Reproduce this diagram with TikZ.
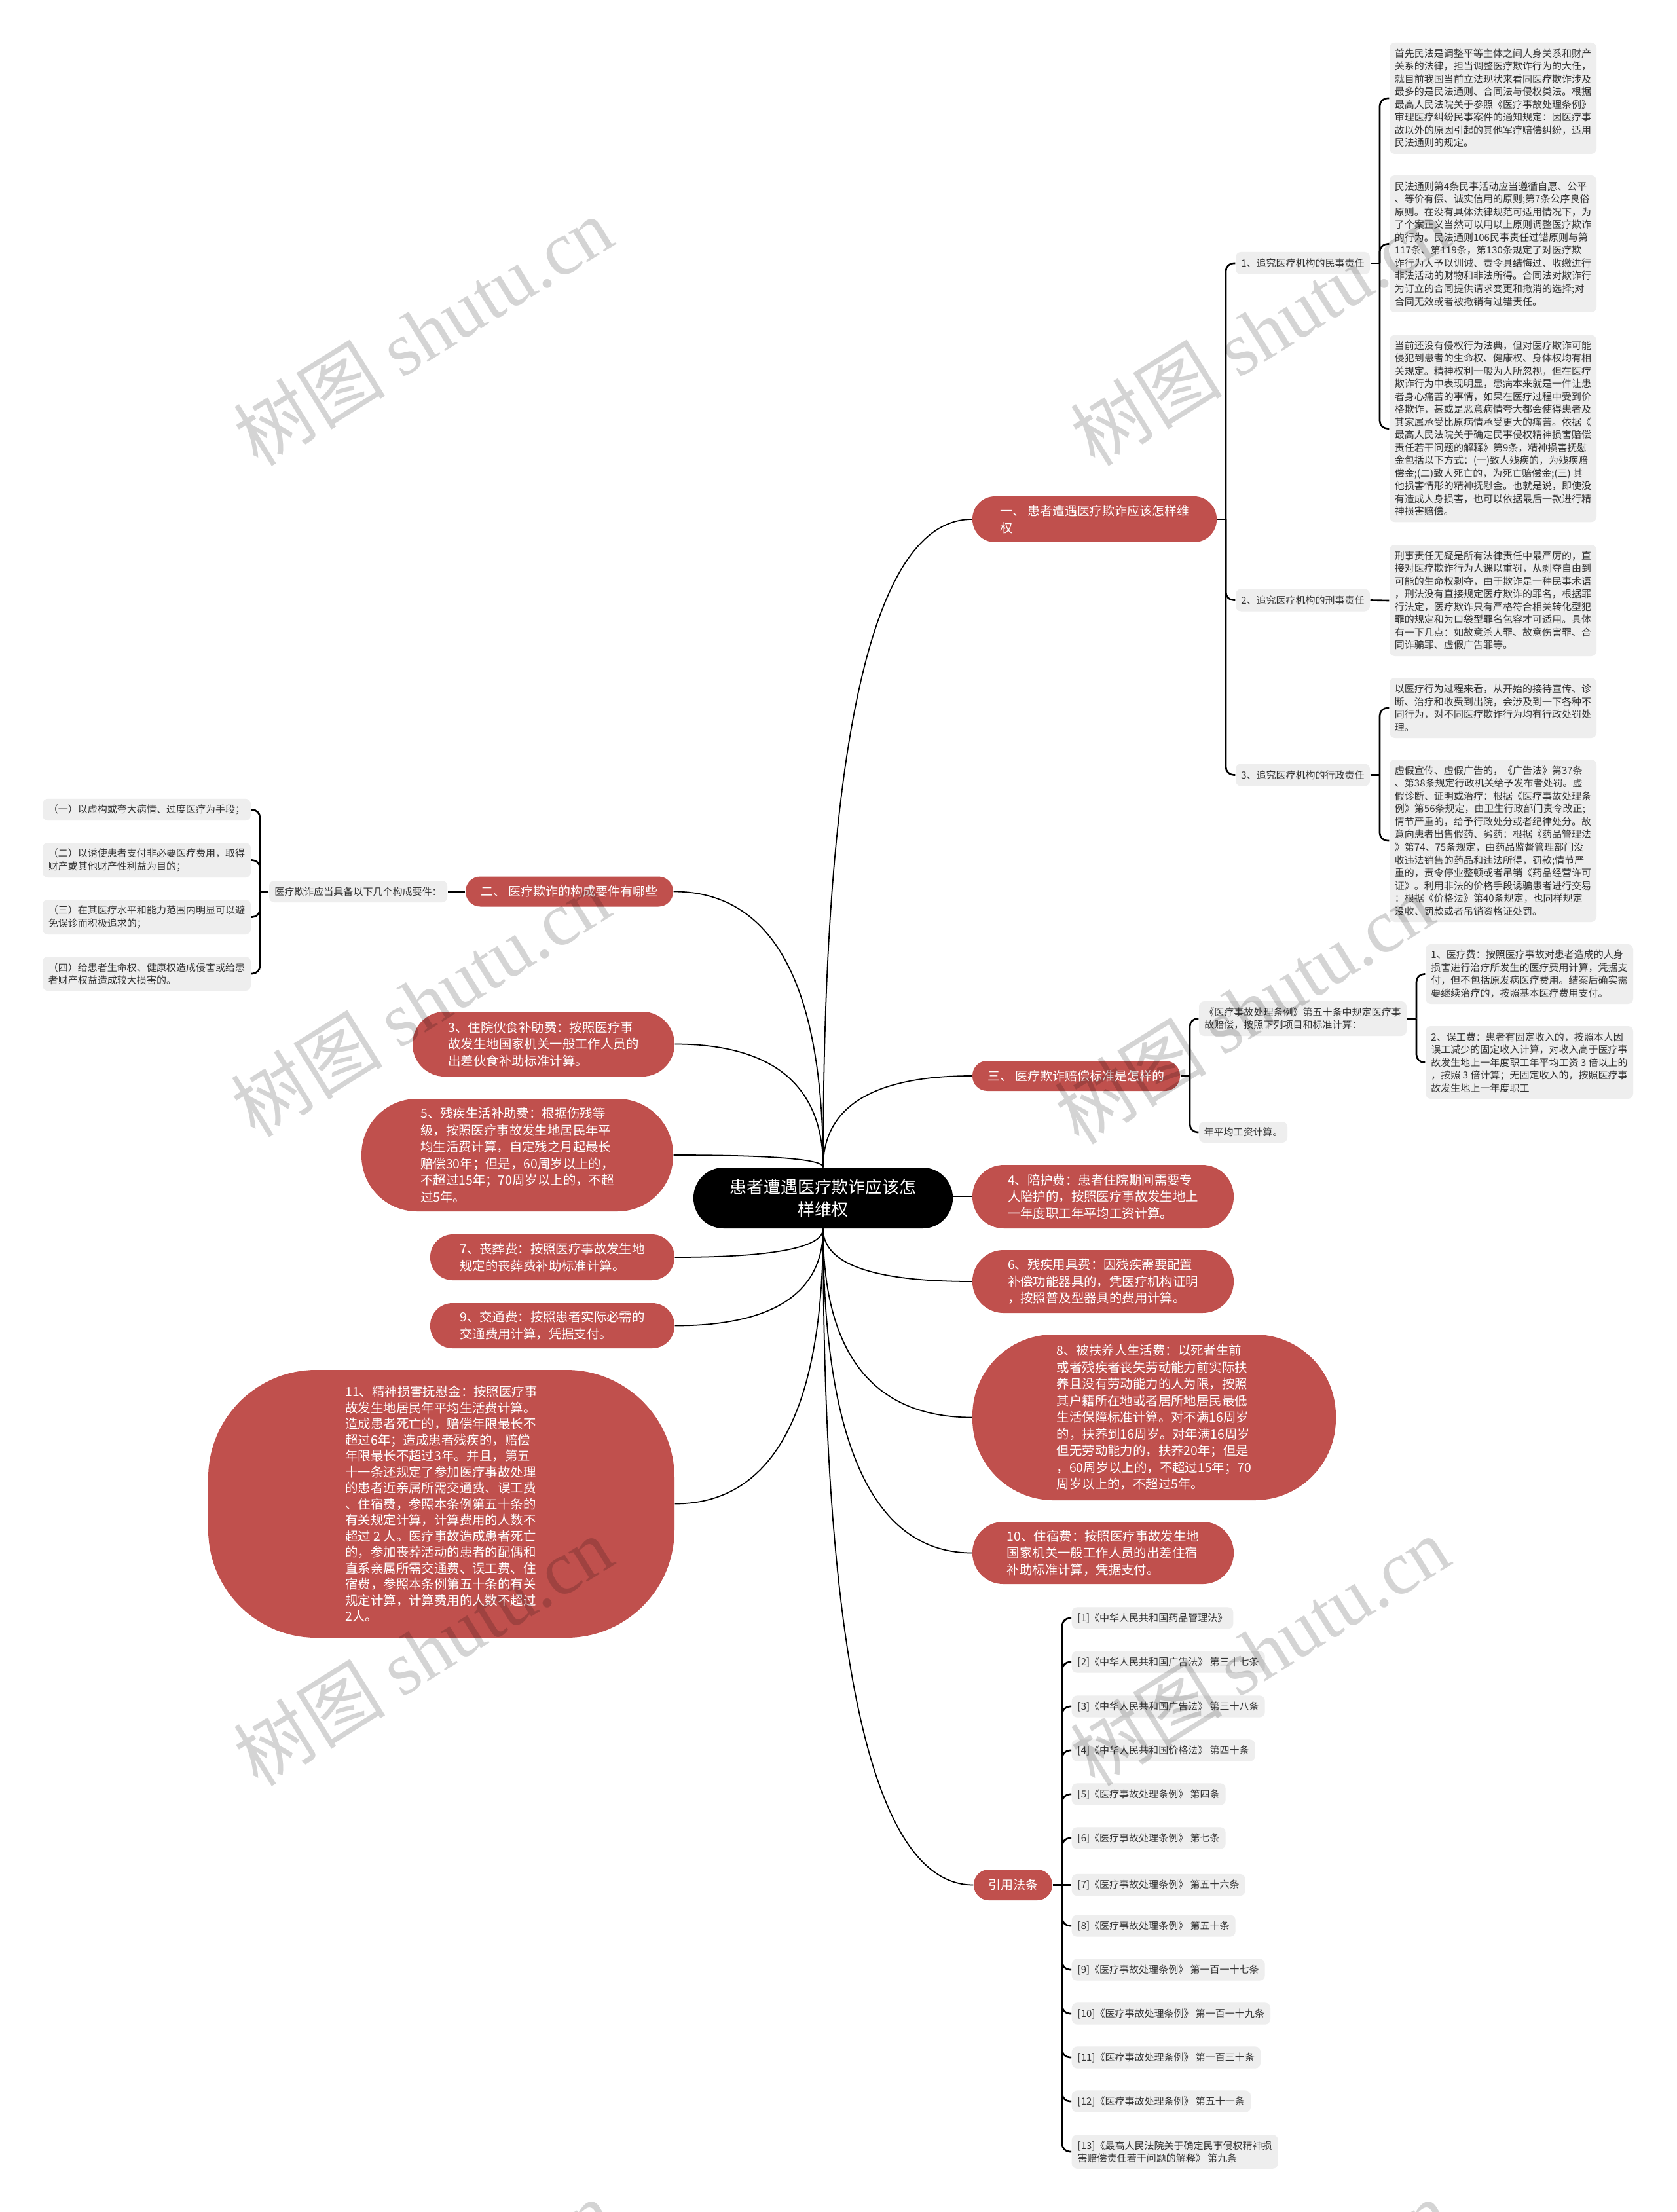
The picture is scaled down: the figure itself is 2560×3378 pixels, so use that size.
\documentclass[tikz,border=0pt]{standalone}
\usepackage{fontspec}
\setmainfont{Noto Sans CJK SC}
\newfontfamily\wmlatin{Liberation Serif}
\definecolor{myred}{HTML}{C0504D}
\definecolor{gfill}{HTML}{EEEEEE}
\definecolor{gtext}{HTML}{333333}
\tikzset{
  gbox/.style={fill=gfill, text=gtext, rounded corners=0.8mm, inner xsep=0.6mm, inner ysep=0.9mm, align=left, font=\fontsize{4.27pt}{5.55pt}\selectfont},
  rnode/.style={fill=myred, text=white, inner sep=0.4mm, align=left, font=\fontsize{5.52pt}{7.26pt}\selectfont},
  bnode/.style={fill=myred, text=white, inner sep=0.4mm, align=left, font=\fontsize{5.4pt}{7.3pt}\selectfont},
  mc/.style={line width=0.5pt, black},
  br/.style={line width=0.75pt, black, rounded corners=1.2mm},
  wm/.style={text=black, text opacity=0.17, font=\fontsize{33pt}{33pt}\selectfont, rotate=32, inner sep=0pt},
}
\begin{document}
\begin{tikzpicture}[x=0.1mm, y=-0.1mm]
\fill[white] (0,0) rectangle (2560,3378);
\useasboundingbox (0,0) rectangle (2560,3378);

% root
\node[fill=black, text=white, align=center, font=\fontsize{7.37pt}{9.6pt}\selectfont, minimum width=39.6mm, minimum height=9.3mm, rounded corners=4.6mm, inner sep=0.5mm] (root) at (1257,1829.5) {患者遭遇医疗欺诈应该怎\\样维权};

% branches
\node[bnode, minimum width=37.3mm, minimum height=7mm, rounded corners=3.45mm] (b1) at (1671.5,793) {一、 患者遭遇医疗欺诈应该怎样维\\权};
\node[bnode, minimum width=31.7mm, minimum height=4.6mm, rounded corners=2.25mm] (b2) at (869.5,1361.5) {二、 医疗欺诈的构成要件有哪些};
\node[bnode, minimum width=31.7mm, minimum height=4.6mm, rounded corners=2.25mm] (b3) at (1643.5,1643) {三、 医疗欺诈赔偿标准是怎样的};
\node[bnode, minimum width=12mm, minimum height=4.7mm, rounded corners=2.3mm] (b4) at (1547,2878.5) {引用法条};

% red leaves, left
\node[rnode, minimum width=40mm, minimum height=9.9mm, rounded corners=4.9mm] (n3) at (830,1594.5) {3、住院伙食补助费：按照医疗事\\故发生地国家机关一般工作人员的\\出差伙食补助标准计算。};
\node[rnode, minimum width=47.6mm, minimum height=17.2mm, rounded corners=8.5mm] (n5) at (790,1764) {5、残疾生活补助费：根据伤残等\\级，按照医疗事故发生地居民年平\\均生活费计算，自定残之月起最长\\赔偿30年；但是，60周岁以上的，\\不超过15年；70周岁以上的，不超\\过5年。};
\node[rnode, minimum width=37.3mm, minimum height=7mm, rounded corners=3.45mm] (n7) at (843.5,1920) {7、丧葬费：按照医疗事故发生地\\规定的丧葬费补助标准计算。};
\node[rnode, minimum width=37.3mm, minimum height=6.9mm, rounded corners=3.4mm] (n9) at (843.5,2024.5) {9、交通费：按照患者实际必需的\\交通费用计算，凭据支付。};
\node[rnode, font=\fontsize{5.52pt}{6.97pt}\selectfont, minimum width=71.2mm, minimum height=40.9mm, rounded corners=16.5mm] (n11) at (674,2296.5) {11、精神损害抚慰金：按照医疗事\\故发生地居民年平均生活费计算。\\造成患者死亡的，赔偿年限最长不\\超过6年；造成患者残疾的，赔偿\\年限最长不超过3年。并且，第五\\十一条还规定了参加医疗事故处理\\的患者近亲属所需交通费、误工费\\、住宿费，参照本条例第五十条的\\有关规定计算，计算费用的人数不\\超过 2 人。医疗事故造成患者死亡\\的，参加丧葬活动的患者的配偶和\\直系亲属所需交通费、误工费、住\\宿费，参照本条例第五十条的有关\\规定计算，计算费用的人数不超过\\2人。};

% red leaves, right
\node[rnode, minimum width=39.9mm, minimum height=9.7mm, rounded corners=4.8mm] (n4) at (1684.5,1827.5) {4、陪护费：患者住院期间需要专\\人陪护的，按照医疗事故发生地上\\一年度职工年平均工资计算。};
\node[rnode, minimum width=39.9mm, minimum height=9.6mm, rounded corners=4.75mm] (n6) at (1684.5,1957) {6、残疾用具费：因残疾需要配置\\补偿功能器具的，凭医疗机构证明\\，按照普及型器具的费用计算。};
\node[rnode, minimum width=55.5mm, minimum height=25.3mm, rounded corners=12.4mm] (n8) at (1762.5,2164.5) {8、被扶养人生活费：以死者生前\\或者残疾者丧失劳动能力前实际扶\\养且没有劳动能力的人为限，按照\\其户籍所在地或者居所地居民最低\\生活保障标准计算。对不满16周岁\\的，扶养到16周岁。对年满16周岁\\但无劳动能力的，扶养20年；但是\\，60周岁以上的，不超过15年；70\\周岁以上的，不超过5年。};
\node[rnode, minimum width=39.9mm, minimum height=9.5mm, rounded corners=4.7mm] (n10) at (1684.5,2371.5) {10、住宿费：按照医疗事故发生地\\国家机关一般工作人员的出差住宿\\补助标准计算，凭据支付。};

% branch one subtree
\node[gbox, minimum width=20.5mm, minimum height=3.4mm] (c1) at (1989.5,402) {1、追究医疗机构的民事责任};
\node[gbox, minimum width=20.5mm, minimum height=3.4mm] (c2) at (1989.5,916.5) {2、追究医疗机构的刑事责任};
\node[gbox, minimum width=20.5mm, minimum height=3.4mm] (c3) at (1989.5,1183.5) {3、追究医疗机构的行政责任};

\node[gbox, minimum width=31.6mm, minimum height=17mm] (k1) at (2280,150) {首先民法是调整平等主体之间人身关系和财产\\关系的法律，担当调整医疗欺诈行为的大任，\\就目前我国当前立法现状来看同医疗欺诈涉及\\最多的是民法通则、合同法与侵权类法。根据\\最高人民法院关于参照《医疗事故处理条例》\\审理医疗纠纷民事案件的通知规定：因医疗事\\故以外的原因引起的其他军疗赔偿纠纷，适用\\民法通则的规定。};
\node[gbox, minimum width=31.6mm, minimum height=20.9mm] (k2) at (2280,372.5) {民法通则第4条民事活动应当遵循自愿、公平\\、等价有偿、诚实信用的原则;第7条公序良俗\\原则。在没有具体法律规范可适用情况下，为\\了个案正义当然可以用以上原则调整医疗欺诈\\的行为。民法通则106民事责任过错原则与第\\117条、第119条，第130条规定了对医疗欺\\诈行为人予以训诫、责令具结悔过、收缴进行\\非法活动的财物和非法所得。合同法对欺诈行\\为订立的合同提供请求变更和撤消的选择;对\\合同无效或者被撤销有过错责任。};
\node[gbox, minimum width=31.6mm, minimum height=28.5mm] (k3) at (2280,654.5) {当前还没有侵权行为法典，但对医疗欺诈可能\\侵犯到患者的生命权、健康权、身体权均有相\\关规定。精神权利一般为人所忽视，但在医疗\\欺诈行为中表现明显，患病本来就是一件让患\\者身心痛苦的事情，如果在医疗过程中受到价\\格欺诈，甚或是恶意病情夸大都会使得患者及\\其家属承受比原病情承受更大的痛苦。依据《\\最高人民法院关于确定民事侵权精神损害赔偿\\责任若干问题的解释》第9条，精神损害抚慰\\金包括以下方式：(一)致人残疾的，为残疾赔\\偿金;(二)致人死亡的，为死亡赔偿金;(三) 其\\他损害情形的精神抚慰金。也就是说，即使没\\有造成人身损害，也可以依据最后一款进行精\\神损害赔偿。};
\node[gbox, minimum width=31.6mm, minimum height=17mm] (k4) at (2280,917) {刑事责任无疑是所有法律责任中最严厉的，直\\接对医疗欺诈行为人课以重罚，从剥夺自由到\\可能的生命权剥夺，由于欺诈是一种民事术语\\，刑法没有直接规定医疗欺诈的罪名，根据罪\\行法定，医疗欺诈只有严格符合相关转化型犯\\罪的规定和为口袋型罪名包容才可适用。具体\\有一下几点：如故意杀人罪、故意伤害罪、合\\同诈骗罪、虚假广告罪等。};
\node[gbox, minimum width=31.6mm, minimum height=9.2mm] (k5) at (2280,1081) {以医疗行为过程来看，从开始的接待宣传、诊\\断、治疗和收费到出院，会涉及到一下各种不\\同行为，对不同医疗欺诈行为均有行政处罚处\\理。};
\node[gbox, minimum width=31.6mm, minimum height=24.8mm] (k6) at (2280,1284) {虚假宣传、虚假广告的，《广告法》第37条\\、第38条规定行政机关给予发布者处罚。虚\\假诊断、证明或治疗：根据《医疗事故处理条\\例》第56条规定，由卫生行政部门责令改正;\\情节严重的，给予行政处分或者纪律处分。故\\意向患者出售假药、劣药：根据《药品管理法\\》第74、75条规定，由药品监督管理部门没\\收违法销售的药品和违法所得，罚款;情节严\\重的，责令停业整顿或者吊销《药品经营许可\\证》。利用非法的价格手段诱骗患者进行交易\\：根据《价格法》第40条规定，也同样规定\\没收、罚款或者吊销资格证处罚。};

% branch two subtree
\node[gbox, minimum width=27.2mm, minimum height=3.3mm] (req) at (547,1361.5) {医疗欺诈应当具备以下几个构成要件：};
\node[gbox, minimum width=31.8mm, minimum height=3.3mm] (r1) at (224,1236.5) {（一）以虚构或夸大病情、过度医疗为手段；};
\node[gbox, minimum width=31.8mm, minimum height=5.3mm] (r2) at (224,1313.5) {（二）以诱使患者支付非必要医疗费用，取得\\财产或其他财产性利益为目的；};
\node[gbox, minimum width=31.8mm, minimum height=5.3mm] (r3) at (224,1400.5) {（三）在其医疗水平和能力范围内明显可以避\\免误诊而积极追求的；};
\node[gbox, minimum width=31.8mm, minimum height=5.2mm] (r4) at (224,1487) {（四）给患者生命权、健康权造成侵害或给患\\者财产权益造成较大损害的。};

% branch three subtree
\node[gbox, minimum width=31.7mm, minimum height=5.3mm] (tl) at (1989.5,1555.5) {《医疗事故处理条例》第五十条中规定医疗事\\故赔偿，按照下列项目和标准计算：};
\node[gbox, minimum width=13.5mm, minimum height=3.2mm] (ny) at (1898.5,1729) {年平均工资计算。};
\node[gbox, minimum width=31.7mm, minimum height=9.1mm] (m1) at (2335.5,1487.5) {1、医疗费：按照医疗事故对患者造成的人身\\损害进行治疗所发生的医疗费用计算，凭据支\\付，但不包括原发病医疗费用。结案后确实需\\要继续治疗的，按照基本医疗费用支付。};
\node[gbox, minimum width=31.7mm, minimum height=11.1mm] (m2) at (2335.5,1622.5) {2、误工费：患者有固定收入的，按照本人因\\误工减少的固定收入计算，对收入高于医疗事\\故发生地上一年度职工年平均工资 3 倍以上的\\，按照 3 倍计算；无固定收入的，按照医疗事\\故发生地上一年度职工};

% references
\node[gbox, anchor=west, minimum height=3.3mm, inner xsep=0.9mm] (f1) at (1636,2471) {[1]《中华人民共和国药品管理法》};
\node[gbox, anchor=west, minimum height=3.3mm, inner xsep=0.9mm] (f2) at (1636,2538) {[2]《中华人民共和国广告法》\ 第三十七条};
\node[gbox, anchor=west, minimum height=3.3mm, inner xsep=0.9mm] (f3) at (1636,2606) {[3]《中华人民共和国广告法》\ 第三十八条};
\node[gbox, anchor=west, minimum height=3.3mm, inner xsep=0.9mm] (f4) at (1636,2673) {[4]《中华人民共和国价格法》\ 第四十条};
\node[gbox, anchor=west, minimum height=3.3mm, inner xsep=0.9mm] (f5) at (1636,2740) {[5]《医疗事故处理条例》\ 第四条};
\node[gbox, anchor=west, minimum height=3.3mm, inner xsep=0.9mm] (f6) at (1636,2807) {[6]《医疗事故处理条例》\ 第七条};
\node[gbox, anchor=west, minimum height=3.3mm, inner xsep=0.9mm] (f7) at (1636,2878.5) {[7]《医疗事故处理条例》\ 第五十六条};
\node[gbox, anchor=west, minimum height=3.3mm, inner xsep=0.9mm] (f8) at (1636,2941) {[8]《医疗事故处理条例》\ 第五十条};
\node[gbox, anchor=west, minimum height=3.3mm, inner xsep=0.9mm] (f9) at (1636,3008) {[9]《医疗事故处理条例》\ 第一百一十七条};
\node[gbox, anchor=west, minimum height=3.3mm, inner xsep=0.9mm] (f10) at (1636,3075) {[10]《医疗事故处理条例》\ 第一百一十九条};
\node[gbox, anchor=west, minimum height=3.3mm, inner xsep=0.9mm] (f11) at (1636,3142) {[11]《医疗事故处理条例》\ 第一百三十条};
\node[gbox, anchor=west, minimum height=3.3mm, inner xsep=0.9mm] (f12) at (1636,3209) {[12]《医疗事故处理条例》\ 第五十一条};
\node[gbox, anchor=west, minimum height=5.1mm, inner xsep=0.9mm] (f13) at (1636,3286) {[13]《最高人民法院关于确定民事侵权精神损\\害赔偿责任若干问题的解释》\ 第九条};

% spine coordinates
\coordinate (s1) at (1872,793);
\coordinate (s1a) at (2107,402);
\coordinate (s1c) at (2107,1183.5);
\coordinate (s2) at (397,1361.5);
\coordinate (s3) at (1817,1643);
\coordinate (s3a) at (2163,1555.5);
\coordinate (s4) at (1622,2878.5);

% main curves
\draw[mc] (root.north) .. controls +(0,-594) and +(-164,0) .. (b1.west);
\draw[mc] (root.north) .. controls +(0,-84) and +(-164,0) .. (b3.west);
\draw[mc] (root.east |- n4.west) -- (n4.west);
\draw[mc] (root.south) .. controls +(0,49) and +(-164,0) .. (n6.west);
\draw[mc] (root.south) .. controls +(0,173) and +(-164,0) .. (n8.west);
\draw[mc] (root.south) .. controls +(0,297) and +(-164,0) .. (n10.west);
\draw[mc] (root.south) .. controls +(0,601) and +(-166,0) .. (b4.west);
\draw[mc] (root.north) .. controls +(0,-253) and +(165,0) .. (b2.east);
\draw[mc] (root.north) .. controls +(0,-113) and +(163,0) .. (n3.east);
\draw[mc] (root.north) .. controls +(0,-11) and +(165,0) .. (n5.east);
\draw[mc] (root.south) .. controls +(0,26) and +(163,0) .. (n7.east);
\draw[mc] (root.south) .. controls +(0,89) and +(163,0) .. (n9.east);
\draw[mc] (root.south) .. controls +(0,252) and +(163,0) .. (n11.east);

% brackets: branch one
\draw[br] (b1.east) -- (s1);
\foreach \c in {c1,c2,c3} \draw[br] (s1) |- (\c.west);
\draw[br] (c1.east) -- (s1a);
\foreach \c in {k1,k2,k3} \draw[br] (s1a) |- (\c.west);
\draw[br] (c2.east) -- (k4.west);
\draw[br] (c3.east) -- (s1c);
\foreach \c in {k5,k6} \draw[br] (s1c) |- (\c.west);

% brackets: branch two
\draw[br] (b2.west) -- (req.east);
\draw[br] (req.west) -- (s2);
\foreach \c in {r1,r2,r3,r4} \draw[br] (s2) |- (\c.east);

% brackets: branch three
\draw[br] (b3.east) -- (s3);
\foreach \c in {tl,ny} \draw[br] (s3) |- (\c.west);
\draw[br] (tl.east) -- (s3a);
\foreach \c in {m1,m2} \draw[br] (s3a) |- (\c.west);

% brackets: references
\draw[br] (b4.east) -- (s4);
\foreach \c in {f1,f2,f3,f4,f5,f6,f8,f9,f10,f11,f12,f13} \draw[br] (s4) |- (\c.west);
\draw[br] (s4) -- (f7.west);

% watermarks
\begin{scope}
\clip (0,0) rectangle (2560,3378);
\node[wm] (wm1) at (646,506) {树图 {\wmlatin shutu.cn}};
\node[wm] (wm2) at (1924,506) {树图 {\wmlatin shutu.cn}};
\node[wm] (wm3) at (642,1530) {树图 {\wmlatin shutu.cn}};
\node[wm] (wm4) at (1900,1541) {树图 {\wmlatin shutu.cn}};
\node[wm] (wm5) at (646,2521) {树图 {\wmlatin shutu.cn}};
\node[wm] (wm6) at (1924,2521) {树图 {\wmlatin shutu.cn}};
\node[wm] (wm7) at (646,3534) {树图 {\wmlatin shutu.cn}};
\node[wm] (wm8) at (1924,3534) {树图 {\wmlatin shutu.cn}};
\end{scope}
\end{tikzpicture}
\end{document}
